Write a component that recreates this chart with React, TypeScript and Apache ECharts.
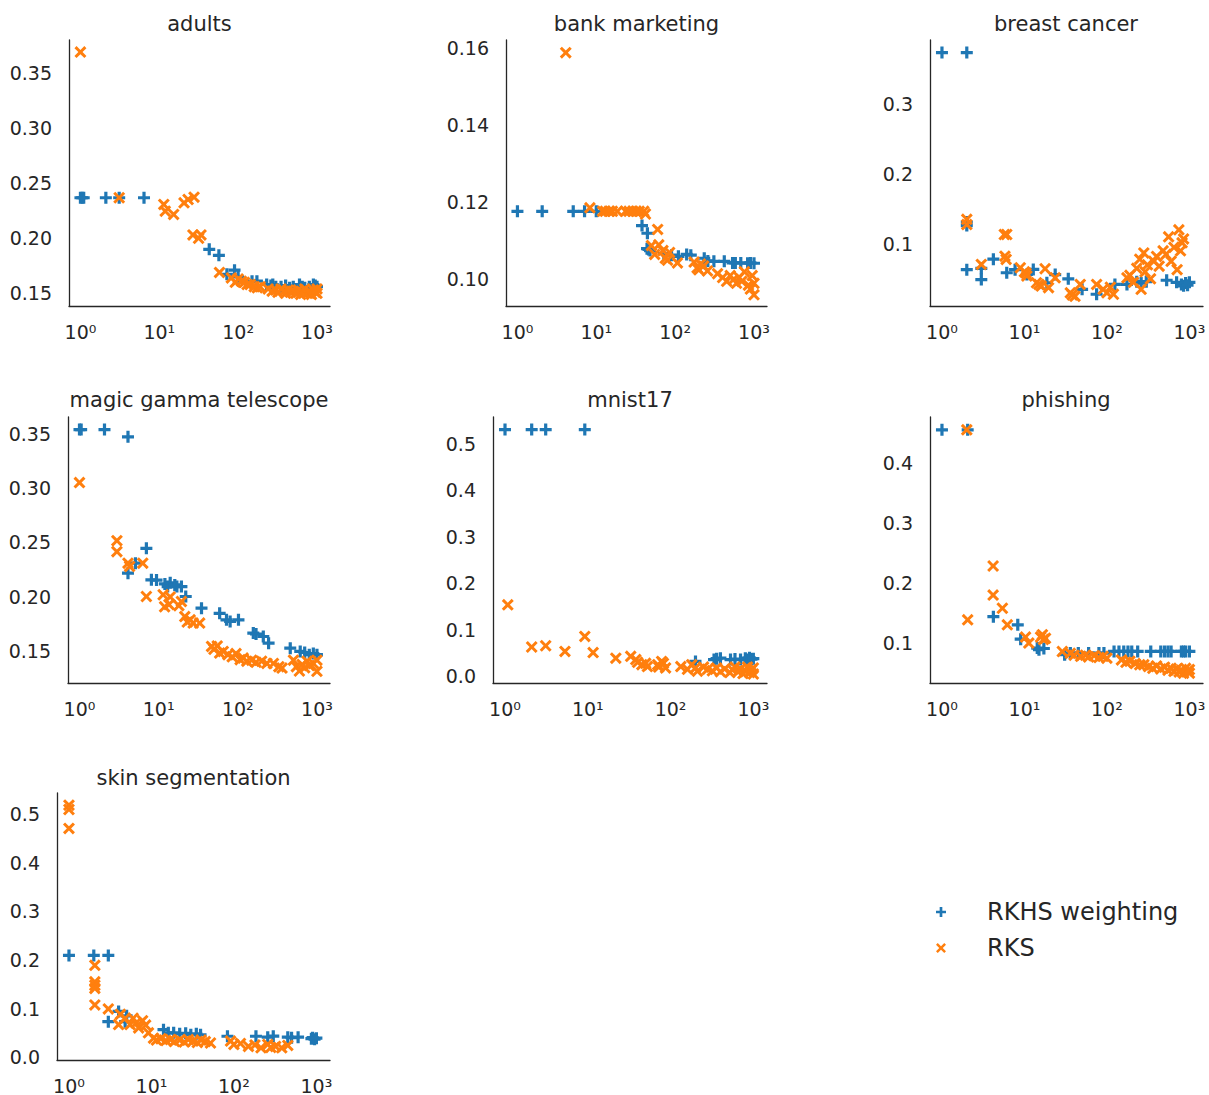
import React, { useEffect, useRef } from 'react';
import * as echarts from 'echarts';

// ---------- data: [number of features, error] ----------
const adultsRkhs = [[1,0.2368],[1.05,0.2368],[1.1,0.2368],[2.1,0.2368],[3.1,0.2368],[6.4,0.2368],[43,0.190],[57,0.1845],[72,0.1673],[90,0.171],[100,0.165],[150,0.161],[173,0.161],[230,0.158],[260,0.157],[275,0.158],[300,0.156],[350,0.156],[400,0.157],[450,0.155],[500,0.156],[600,0.158],[650,0.156],[700,0.155],[800,0.156],[900,0.158],[950,0.157],[1000,0.156]];
const adultsRks = [[1,0.369],[3.1,0.2368],[11.4,0.2307],[11.9,0.2246],[15.2,0.2216],[20.6,0.2322],[23.2,0.2352],[27.6,0.2373],[26.7,0.203],[33.8,0.203],[31.5,0.200],[58,0.169],[82,0.164],[92,0.160],[100,0.163],[110,0.161],[120,0.160],[130,0.158],[142,0.158],[160,0.156],[175,0.155],[190,0.156],[240,0.154],[270,0.152],[300,0.153],[320,0.151],[350,0.154],[380,0.152],[400,0.150],[430,0.153],[460,0.151],[500,0.152],[540,0.150],[580,0.153],[620,0.149],[660,0.151],[700,0.154],[750,0.150],[800,0.152],[850,0.149],[900,0.153],[950,0.151],[1000,0.150],[1000,0.154]];

const bankRkhs = [[1,0.1177],[2.06,0.1177],[5.1,0.1177],[7.1,0.1177],[10,0.1177],[38,0.114],[44.5,0.112],[44,0.108],[46,0.1078],[48,0.1075],[72,0.1067],[90,0.1063],[110,0.1060],[140,0.1065],[158,0.1063],[234,0.1055],[260,0.1048],[310,0.1047],[420,0.1047],[535,0.1043],[580,0.1043],[680,0.1043],[830,0.1042],[900,0.1043],[1000,0.1042]];
const bankRks = [[4.1,0.1589],[8.3,0.1186],[12,0.1177],[13,0.1177],[14.5,0.1177],[16,0.1177],[18.5,0.1177],[23.5,0.1177],[26,0.1177],[29,0.1177],[32,0.1177],[35,0.1177],[40,0.1177],[42,0.1170],[50,0.1088],[55,0.1065],[60,0.1130],[62,0.1090],[70,0.1075],[75,0.1055],[80,0.1050],[85,0.1070],[107,0.1043],[174,0.1045],[190,0.1030],[200,0.1025],[210,0.1040],[230,0.1035],[257,0.1022],[345,0.1015],[400,0.1005],[450,0.0995],[500,0.1010],[550,0.1000],[600,0.0990],[650,0.1005],[700,0.0995],[755,0.1020],[850,0.0985],[900,0.0975],[950,0.1010],[1000,0.0960],[1000,0.0990]];

const breastRkhs = [[1,0.373],[2,0.373],[2,0.131],[2,0.126],[2,0.063],[3,0.065],[3,0.049],[4.2,0.078],[6.1,0.0587],[7.7,0.063],[10.7,0.0563],[12.8,0.0634],[18.7,0.0444],[23.6,0.056],[34,0.050],[50,0.035],[75,0.028],[125,0.042],[175,0.042],[230,0.046],[260,0.044],[300,0.046],[530,0.048],[700,0.045],[800,0.042],[850,0.040],[900,0.044],[950,0.041],[1000,0.045]];
const breastRks = [[2,0.1275],[2,0.135],[3,0.0706],[5.7,0.1133],[6.1,0.1133],[5.8,0.0824],[6,0.0777],[8.9,0.0658],[10,0.060],[10.5,0.058],[10.7,0.054],[14,0.0444],[15,0.042],[16,0.0397],[17.8,0.0644],[19.6,0.0373],[23.6,0.0515],[36,0.030],[38,0.027],[41,0.025],[47.5,0.042],[75,0.042],[90,0.035],[100,0.030],[110,0.038],[120,0.028],[175,0.0515],[190,0.055],[210,0.045],[230,0.065],[250,0.078],[260,0.035],[280,0.087],[290,0.060],[310,0.070],[338,0.050],[370,0.075],[400,0.082],[430,0.068],[480,0.090],[520,0.085],[560,0.110],[600,0.075],[650,0.095],[710,0.063],[745,0.120],[780,0.090],[815,0.1014],[850,0.107]];

const magicRkhs = [[1,0.3537],[1.05,0.3537],[2.07,0.3537],[4.1,0.347],[4.1,0.2218],[5.1,0.231],[7,0.2446],[8.1,0.2157],[9.4,0.2155],[12,0.212],[13,0.2095],[14,0.213],[16,0.211],[17,0.2095],[19.4,0.2095],[22,0.2004],[34.8,0.1897],[59,0.185],[72,0.179],[80,0.1775],[102,0.1790],[157,0.1668],[170,0.1660],[210,0.1637],[245,0.1576],[460,0.153],[615,0.150],[700,0.149],[800,0.147],[900,0.148],[1000,0.147]];
const magicRks = [[1,0.305],[2.97,0.2517],[2.97,0.2416],[4.1,0.231],[4.3,0.228],[6.3,0.231],[7,0.2004],[11.4,0.202],[11.9,0.191],[14,0.200],[13.5,0.193],[19.4,0.1958],[18,0.192],[21.4,0.182],[23,0.177],[25,0.179],[27.3,0.176],[33,0.176],[46.6,0.1546],[50,0.152],[55,0.155],[59,0.1485],[65.5,0.150],[75,0.147],[85,0.145],[95,0.148],[107,0.1424],[117,0.1439],[130,0.141],[150,0.142],[170,0.140],[200,0.141],[233,0.139],[282,0.139],[330,0.136],[362,0.1347],[505,0.142],[550,0.136],[600,0.132],[650,0.138],[700,0.135],[750,0.141],[800,0.137],[900,0.139],[1000,0.1317],[1000,0.142]];

const mnistRkhs = [[1,0.53],[2.1,0.53],[3.1,0.53],[9.2,0.53],[200,0.032],[335,0.036],[360,0.038],[400,0.039],[530,0.036],[600,0.037],[700,0.036],[800,0.039],[850,0.036],[900,0.040],[950,0.037],[1000,0.038]];
const mnistRks = [[1.08,0.1536],[2.1,0.063],[3.1,0.0657],[5.3,0.0536],[9.2,0.0857],[11.6,0.051],[21.8,0.039],[33,0.043],[38,0.036],[40,0.030],[45,0.025],[50,0.028],[52.5,0.021],[70,0.025],[72,0.020],[78,0.032],[82,0.028],[87,0.018],[133,0.021],[160,0.015],[180,0.025],[200,0.018],[211,0.011],[250,0.020],[280,0.015],[320,0.012],[360,0.018],[400,0.010],[450,0.016],[520,0.008],[560,0.014],[600,0.020],[650,0.010],[700,0.016],[750,0.006],[800,0.012],[850,0.020],[900,0.008],[950,0.014],[1000,0.005],[1000,0.018]];

const phishingRkhs = [[1,0.455],[2.05,0.455],[4.2,0.144],[8.3,0.1304],[9,0.1066],[14.3,0.0917],[15,0.089],[17.2,0.091],[30.7,0.0806],[36,0.0834],[45,0.0834],[60,0.0834],[80,0.0834],[92,0.0834],[122,0.0862],[140,0.0862],[160,0.0862],[180,0.0862],[200,0.0862],[236,0.0862],[340,0.0862],[450,0.0862],[500,0.0862],[550,0.0862],[600,0.0862],[800,0.0862],[850,0.0862],[900,0.0862],[1000,0.0862]];
const phishingRks = [[2,0.455],[2.05,0.1387],[4.17,0.2284],[4.17,0.180],[5.4,0.158],[6.2,0.1304],[10.3,0.110],[11.3,0.100],[15.7,0.110],[16.5,0.114],[17,0.106],[18,0.108],[28.8,0.086],[36,0.083],[40,0.080],[48,0.078],[55,0.080],[60,0.077],[70,0.079],[80,0.076],[90,0.078],[100,0.075],[150,0.072],[170,0.068],[190,0.070],[220,0.066],[250,0.064],[280,0.064],[320,0.061],[360,0.058],[400,0.062],[450,0.057],[500,0.060],[550,0.055],[600,0.058],[650,0.053],[700,0.057],[750,0.052],[800,0.055],[850,0.050],[900,0.058],[950,0.053],[1000,0.050],[1000,0.056]];

const skinRkhs = [[1,0.2095],[2,0.2095],[3,0.2095],[3,0.073],[4,0.094],[4.8,0.073],[5,0.085],[14,0.0565],[16,0.050],[18.6,0.050],[22,0.048],[26,0.049],[30,0.046],[35,0.048],[39.4,0.046],[83.5,0.0429],[185,0.0429],[257,0.041],[300,0.043],[450,0.041],[500,0.040],[600,0.041],[870,0.038],[900,0.040],[950,0.037],[1000,0.039]];
const skinRks = [[1,0.519],[1,0.510],[1,0.471],[2.06,0.189],[2.06,0.155],[2.06,0.148],[2.06,0.1415],[2.06,0.1075],[3,0.0993],[4,0.067],[4.2,0.088],[4.8,0.080],[5.5,0.067],[6,0.080],[6.5,0.070],[7,0.060],[7.8,0.075],[8.5,0.066],[9.2,0.050],[10.6,0.039],[11.5,0.035],[13,0.038],[15,0.034],[17,0.036],[19,0.032],[22,0.035],[25,0.031],[28,0.036],[32,0.033],[36,0.030],[40,0.035],[45,0.032],[52,0.029],[91,0.033],[100,0.026],[120,0.028],[150,0.022],[180,0.025],[213,0.019],[257,0.026],[280,0.020],[320,0.022],[380,0.019],[450,0.024]];

// ---------- tick labels ----------
const adultsTicks = [0.15, 0.20, 0.25, 0.30, 0.35];
const bankTicks = [0.10, 0.12, 0.14, 0.16];
const breastTicks = [0.1, 0.2, 0.3];
const magicTicks = [0.15, 0.20, 0.25, 0.30, 0.35];
const mnistTicks = [0.0, 0.1, 0.2, 0.3, 0.4, 0.5];
const phishingTicks = [0.1, 0.2, 0.3, 0.4];
const skinTicks = [0.0, 0.1, 0.2, 0.3, 0.4, 0.5];

const titles = ['adults', 'bank marketing', 'breast cancer', 'magic gamma telescope', 'mnist17', 'phishing', 'skin segmentation'];
const seriesNames = ['RKHS weighting', 'RKS'];

// ---------- styling / layout ----------
const BLUE = '#1f77b4';
const ORANGE = '#ff7f0e';
const INK = '#262626';
const FONT = 'DejaVu Sans';
const PLUS = 'path://M4.4,0H7.6V4.4H12V7.6H7.6V12H4.4V7.6H0V4.4H4.4Z';
const CROSS = 'path://M0,2.1L2.1,0L6,3.9L9.9,0L12,2.1L8.1,6L12,9.9L9.9,12L6,8.1L2.1,12L0,9.9L3.9,6Z';
const SUP = ['\u2070', '\u00b9', '\u00b2', '\u00b3'];
const X_MIN = 0.716;
const X_MAX = 1462;

const panels = [
  { rkhs: adultsRkhs, rks: adultsRks, ticks: adultsTicks, dec: 2, yMin: 0.1385, yMax: 0.380, grid: { left: 69, top: 40, width: 261, height: 266 }, tx: 199.5, ty: 24 },
  { rkhs: bankRkhs, rks: bankRks, ticks: bankTicks, dec: 2, yMin: 0.0931, yMax: 0.1622, grid: { left: 506, top: 40, width: 261, height: 266 }, tx: 636.5, ty: 24 },
  { rkhs: breastRkhs, rks: breastRks, ticks: breastTicks, dec: 1, yMin: 0.0112, yMax: 0.391, grid: { left: 930, top: 40, width: 273, height: 266 }, tx: 1066, ty: 24 },
  { rkhs: magicRkhs, rks: magicRks, ticks: magicTicks, dec: 2, yMin: 0.121, yMax: 0.3652, grid: { left: 68, top: 417, width: 262, height: 266 }, tx: 199, ty: 400 },
  { rkhs: mnistRkhs, rks: mnistRks, ticks: mnistTicks, dec: 1, yMin: -0.0143, yMax: 0.557, grid: { left: 493, top: 417, width: 274, height: 266 }, tx: 630, ty: 400 },
  { rkhs: phishingRkhs, rks: phishingRks, ticks: phishingTicks, dec: 1, yMin: 0.0336, yMax: 0.4764, grid: { left: 930, top: 417, width: 273, height: 266 }, tx: 1066, ty: 400 },
  { rkhs: skinRkhs, rks: skinRks, ticks: skinTicks, dec: 1, yMin: -0.006, yMax: 0.544, grid: { left: 57, top: 793, width: 273, height: 269 }, tx: 193.5, ty: 778 },
];

function buildOption() {
  const axisLine = { show: true, onZero: false, lineStyle: { color: INK, width: 1.3 } };
  const grid = panels.map((p) => ({ ...p.grid, containLabel: false }));
  const xAxis = panels.map((p, i) => ({
    type: 'log',
    logBase: 10,
    gridIndex: i,
    min: X_MIN,
    max: X_MAX,
    axisLine,
    axisTick: { show: false },
    splitLine: { show: false },
    minorTick: { show: false },
    axisLabel: {
      showMinLabel: false,
      showMaxLabel: false,
      margin: 16,
      fontSize: 19,
      fontFamily: FONT,
      color: INK,
      formatter: (v: number) => {
        const e = Math.round(Math.log10(v));
        return '10' + (SUP[e] ?? String(e));
      },
    },
  }));
  const yAxis = panels.map((p, i) => ({
    type: 'value',
    gridIndex: i,
    min: p.yMin,
    max: p.yMax,
    axisLine,
    axisTick: { show: false },
    splitLine: { show: false },
    axisLabel: {
      customValues: p.ticks,
      margin: 17,
      fontSize: 19,
      fontFamily: FONT,
      color: INK,
      formatter: (v: number) => v.toFixed(p.dec),
    },
  }));
  const series: any[] = [];
  panels.forEach((p, i) => {
    series.push({
      type: 'scatter', name: seriesNames[0], xAxisIndex: i, yAxisIndex: i,
      data: p.rkhs, symbol: PLUS, symbolSize: 12, itemStyle: { color: BLUE, opacity: 1 }, z: 2,
    });
    series.push({
      type: 'scatter', name: seriesNames[1], xAxisIndex: i, yAxisIndex: i,
      data: p.rks, symbol: CROSS, symbolSize: 12, itemStyle: { color: ORANGE, opacity: 1 }, z: 3,
    });
  });
  const title = panels.map((p, i) => ({
    text: titles[i],
    left: p.tx,
    top: p.ty,
    padding: 0,
    textAlign: 'center',
    textVerticalAlign: 'middle',
    textStyle: { fontSize: 21, fontWeight: 'normal', color: INK, fontFamily: FONT },
  }));
  return {
    animation: false,
    backgroundColor: '#ffffff',
    textStyle: { fontFamily: FONT },
    title,
    grid,
    xAxis,
    yAxis,
    series,
    legend: {
      orient: 'vertical',
      left: 936,
      top: 898,
      padding: 0,
      itemWidth: 82,
      itemHeight: 10,
      itemGap: 8,
      selectedMode: false,
      textStyle: { fontSize: 24, color: INK, fontFamily: FONT, lineHeight: 28 },
      data: [
        { name: seriesNames[0], icon: PLUS },
        { name: seriesNames[1], icon: CROSS },
      ],
    },
  };
}

export default function App() {
  const ref = useRef<HTMLDivElement>(null);
  useEffect(() => {
    if (!ref.current) return;
    const chart = echarts.init(ref.current, null, { renderer: 'svg' });
    chart.setOption(buildOption() as any);
    return () => chart.dispose();
  }, []);
  return (
    <div
      ref={ref}
      style={{ position: 'absolute', left: 0, top: 0, width: 1209, height: 1095, background: '#fff' }}
    />
  );
}
